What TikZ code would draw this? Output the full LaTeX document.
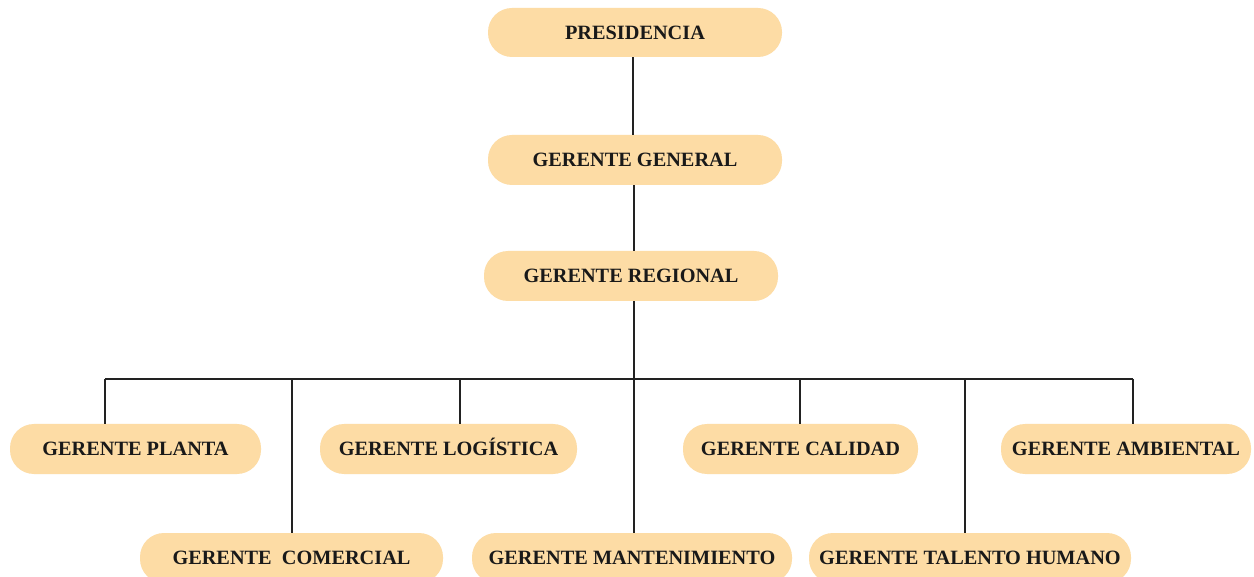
\documentclass[tikz,border=0pt]{standalone}
\usepackage{fontspec}
\setmainfont{Liberation Serif}
\definecolor{boxfill}{RGB}{253,220,165}
\definecolor{linecol}{RGB}{34,34,34}
\begin{document}
\begin{tikzpicture}[x=1pt,y=-1pt,
  pill/.style={fill=boxfill, draw=none, rounded corners=24pt, minimum height=50pt, inner sep=0pt,
    text height=13.2pt, text depth=0pt,
    font=\fontsize{20.3}{22}\selectfont\bfseries, text=black!90},
  link/.style={draw=linecol, line width=1.4pt}]
\useasboundingbox (0,0) rectangle (1254,577);
\fill[white] (0,0) rectangle (1254,577);
% top chain
\node[pill, minimum width=294pt, minimum height=49pt] (pres) at (635,32.5) {PRESIDENCIA};
\node[pill, minimum width=294pt] (gen) at (635,160) {GERENTE GENERAL};
\node[pill, minimum width=294pt] (reg) at (631,276) {GERENTE REGIONAL};
% first row
\node[pill, minimum width=251pt] (planta) at (135.5,449) {GERENTE PLANTA};
\node[pill, minimum width=257pt] (log) at (448.5,449) {GERENTE LOGÍSTICA};
\node[pill, minimum width=235pt] (cal) at (800.5,449) {GERENTE CALIDAD};
\node[pill, minimum width=250pt] (amb) at (1126,449) {GERENTE AMBIENTAL};
% second row
\node[pill, minimum width=303pt] (com) at (291.5,558) {GERENTE~ COMERCIAL};
\node[pill, minimum width=320pt] (mant) at (632,558) {GERENTE MANTENIMIENTO};
\node[pill, minimum width=322pt] (tal) at (970,558) {GERENTE TALENTO HUMANO};
% bus coordinates
\coordinate (bL) at (105,379);
\coordinate (bR) at (1133,379);
\coordinate (bcom) at (292,379);
\coordinate (blog) at (460,379);
\coordinate (bmant) at (634,379);
\coordinate (bcal) at (800,379);
\coordinate (btal) at (965,379);
% connectors
\draw[link] (pres.south -| 633,0) -- (gen.north -| 633,0);
\draw[link] (gen.south -| 634,0) -- (reg.north -| 634,0);
\draw[link] (reg.south -| bmant) -- (bmant |- mant.north);
\draw[link] (bL) -- (bR);
\draw[link] (bL) -- (bL |- planta.north);
\draw[link] (bcom) -- (bcom |- com.north);
\draw[link] (blog) -- (blog |- log.north);
\draw[link] (bcal) -- (bcal |- cal.north);
\draw[link] (btal) -- (btal |- tal.north);
\draw[link] (bR) -- (bR |- amb.north);
\end{tikzpicture}
\end{document}
